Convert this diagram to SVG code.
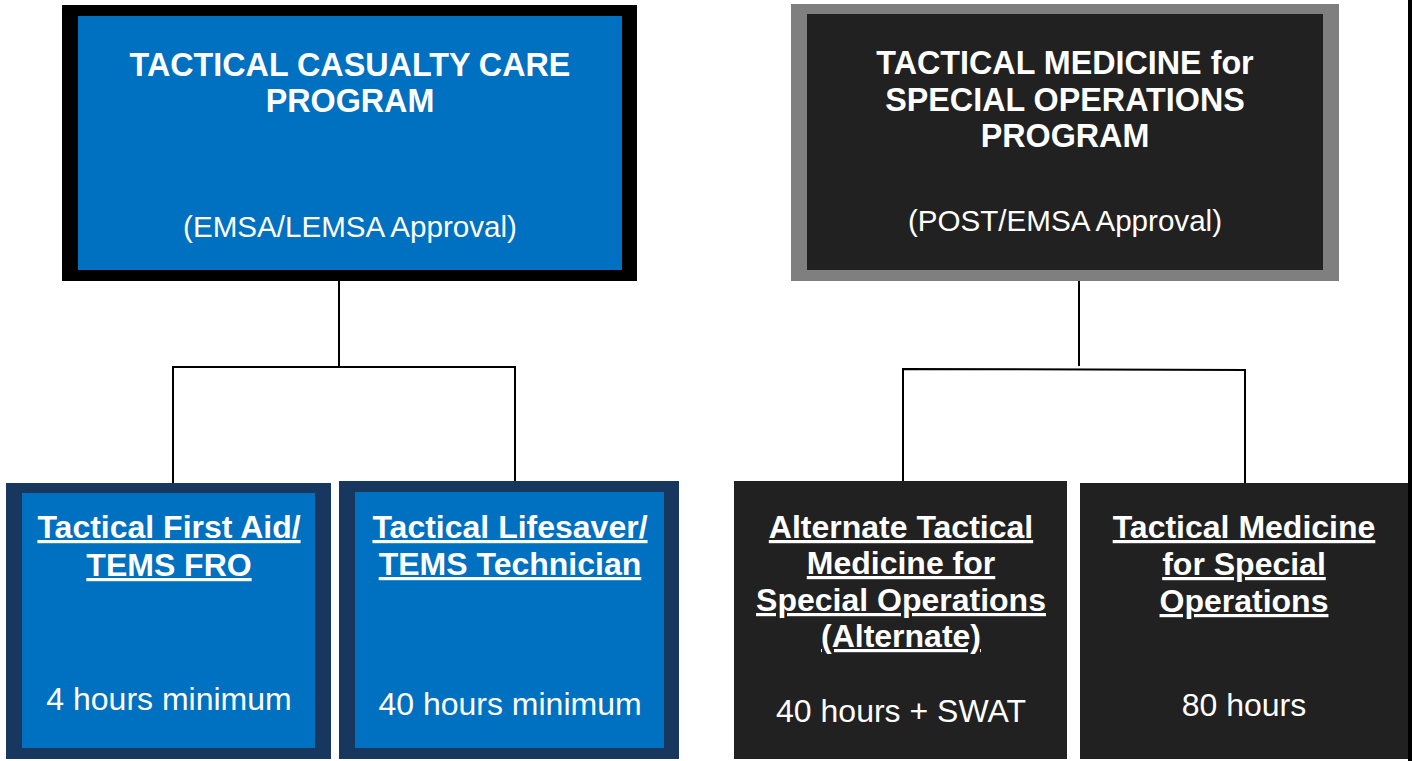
<svg xmlns="http://www.w3.org/2000/svg" width="1412" height="761" viewBox="0 0 1412 761">
<style>
.t{font-family:"Liberation Sans",Arial,sans-serif;fill:#fff;text-anchor:middle}
.b{font-weight:bold;font-size:32.3px}
.u{font-weight:bold;font-size:32px;text-decoration:underline}
.r{font-size:32px}
.a{font-size:29.6px}
.blue{fill:#0070C0}
.navy{fill:#17375E}
.dark{fill:#212121}
.ln{stroke:#000;stroke-width:2;fill:none}
</style>
<rect width="1412" height="761" fill="#fff"/>
<rect x="1408" y="0" width="4" height="761" fill="#000"/>
<g id="connectors">
<polyline class="ln" points="339,281 339,367"/>
<polyline class="ln" points="173,483 173,367 515,367 515,481"/>
<polyline class="ln" points="1079,281 1079,366"/>
<polyline class="ln" points="903,481 903,369 1245,370 1245,483"/>
</g>
<g id="tccp">
<rect x="62" y="5" width="575" height="276" fill="#000"/>
<rect class="blue" x="78" y="16" width="544" height="254"/>
<text class="t b" x="350" y="76">TACTICAL CASUALTY CARE</text>
<text class="t b" x="350" y="112">PROGRAM</text>
<text class="t a" x="350" y="237">(EMSA/LEMSA Approval)</text>
</g>
<g id="tmsop">
<rect x="791" y="4" width="548" height="277" fill="#7F7F7F"/>
<rect class="dark" x="807" y="14" width="516" height="256"/>
<text class="t b" x="1065" y="74">TACTICAL MEDICINE for</text>
<text class="t b" x="1065" y="111">SPECIAL OPERATIONS</text>
<text class="t b" x="1065" y="147">PROGRAM</text>
<text class="t a" x="1065" y="231">(POST/EMSA Approval)</text>
</g>
<g id="tfa">
<rect class="navy" x="6" y="483" width="325" height="276"/>
<rect class="blue" x="22" y="493" width="293" height="255"/>
<text class="t u" x="169" y="538">Tactical First Aid/</text>
<text class="t u" x="169" y="576">TEMS FRO</text>
<text class="t r" x="169" y="710">4 hours minimum</text>
</g>
<g id="tls">
<rect class="navy" x="339" y="481" width="340" height="278"/>
<rect class="blue" x="355" y="492" width="309" height="256"/>
<text class="t u" x="510" y="538">Tactical Lifesaver/</text>
<text class="t u" x="510" y="575">TEMS Technician</text>
<text class="t r" x="510" y="715">40 hours minimum</text>
</g>
<g id="alt">
<rect class="dark" x="734" y="481" width="333" height="278"/>
<text class="t u" x="901" y="538">Alternate Tactical</text>
<text class="t u" x="901" y="574">Medicine for</text>
<text class="t u" x="901" y="611">Special Operations</text>
<text class="t u" x="901" y="647">(Alternate)</text>
<text class="t r" x="901" y="722">40 hours + SWAT</text>
</g>
<g id="tmso">
<rect class="dark" x="1080" y="483" width="328" height="276"/>
<text class="t u" x="1244" y="538">Tactical Medicine</text>
<text class="t u" x="1244" y="575">for Special</text>
<text class="t u" x="1244" y="612">Operations</text>
<text class="t r" x="1244" y="716">80 hours</text>
</g>
</svg>
